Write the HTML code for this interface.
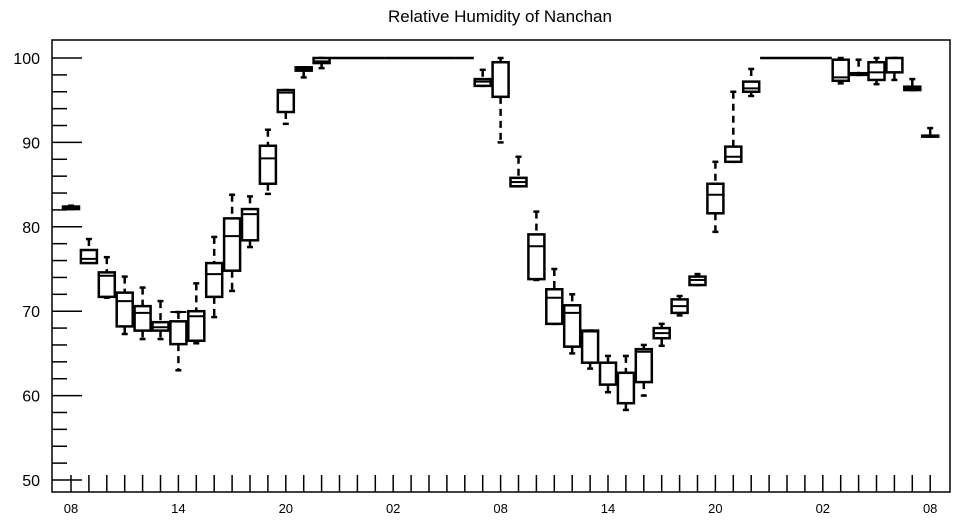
<!DOCTYPE html>
<html><head><meta charset="utf-8"><style>
body{margin:0;background:#fff;}
svg{display:block;font-family:"Liberation Sans",sans-serif;}
</style></head><body>
<svg id="chart" width="957" height="520">
<text x="500" y="22" text-anchor="middle" font-size="17">Relative Humidity of Nanchan</text>
<rect x="52" y="40" width="898" height="452" fill="none" stroke="#000" stroke-width="1.5"/>
<g id="axes"></g>
<g id="boxes"></g>
</svg>
<script>
// hour index from 08 of day 1
const hours=[0,1,2,3,4,5,6,7,8,9,10,11,12,13,14,23,24,25,26,27,28,29,30,31,32,33,34,35,36,37,38,43,44,45,46,47,48];
const mins=[82.1,76.0,71.6,67.3,66.7,66.7,63.0,66.2,69.3,72.4,77.6,83.9,92.2,97.7,98.8,96.7,90.0,84.8,73.7,68.5,65.0,63.2,60.4,58.3,60.0,65.9,69.5,73.1,79.4,87.7,95.5,97.0,98.0,96.9,97.4,96.2,90.7];
const q1s=[82.1,75.7,71.7,68.2,67.7,67.7,66.1,66.5,71.7,74.8,78.4,85.1,93.6,98.5,99.4,96.7,95.4,84.8,73.8,68.5,65.8,63.9,61.3,59.1,61.6,66.8,69.8,73.1,81.6,87.7,96.0,97.3,98.0,97.4,98.3,96.2,90.7];
const meds=[82.2,76.2,74.2,71.2,69.8,68.1,69.9,69.4,74.4,78.9,81.5,88.1,95.9,98.7,99.6,97.2,99.5,85.3,77.7,71.6,69.8,67.6,63.9,62.7,65.2,67.4,70.6,73.7,83.8,88.3,96.4,97.7,98.2,98.3,100,96.4,90.8];
const q3s=[82.4,77.25,74.6,72.2,70.6,68.7,68.8,70.0,75.7,81.0,82.1,89.6,96.2,98.9,100,97.5,99.5,85.8,79.1,72.6,70.7,67.7,63.9,62.7,65.5,68.0,71.4,74.1,85.1,89.5,97.2,99.8,98.2,99.5,100,96.6,90.8];
const maxs=[82.5,78.55,76.4,74.1,72.8,71.2,69.9,73.3,78.8,83.8,83.6,91.5,96.2,98.9,100,98.6,100,88.3,81.8,75.0,72.0,67.7,64.7,64.7,66.0,68.5,71.8,74.4,87.7,96.0,98.7,100,99.8,100,100,97.5,91.7];
const flatHours=[15,16,17,18,19,20,21,22,39,40,41,42];
const flatVals=[100,100,100,100,100,100,100,100,100,100,100,100];
const yTicks=[50,60,70,80,90,100];
const xLabels=["08","14","20","02","08","14","20","02","08"];

const NS="http://www.w3.org/2000/svg";
const X=h=>71+h*17.9;
const Y=v=>480-(v-50)*8.44;
function el(tag,attrs,parent){const e=document.createElementNS(NS,tag);for(const k in attrs)e.setAttribute(k,attrs[k]);parent.appendChild(e);return e;}
const axes=document.getElementById('axes'), boxes=document.getElementById('boxes');
for(let v=50;v<=100;v+=2){
  const major=v%10===0;
  const t=el('line',{x1:52,x2:major?82:67,y1:Y(v),y2:Y(v),stroke:'#000','stroke-width':1.5},axes);
  
  
}
yTicks.forEach(v=>{
  const t=el('text',{x:40,y:Y(v)+6,'text-anchor':'end','font-size':16},axes);
  t.textContent=v;
  
  
});
for(let h=0;h<=48;h++){
  const t=el('line',{x1:X(h),x2:X(h),y1:475,y2:492,stroke:'#000','stroke-width':1.5},axes);
  
  
}
xLabels.forEach((s,i)=>{
  const t=el('text',{x:X(i*6),y:513,'text-anchor':'middle','font-size':13},axes);
  t.textContent=s;
  
  
});
const W=16;
hours.forEach((h,i)=>{
  const g=el('g',{},boxes);
  
  
  const x=X(h);
  el('line',{x1:x,x2:x,y1:Y(maxs[i]),y2:Y(q3s[i]),stroke:'#000','stroke-width':2.5,'stroke-dasharray':'7,5'},g);
  el('line',{x1:x,x2:x,y1:Y(q1s[i]),y2:Y(mins[i]),stroke:'#000','stroke-width':2.5,'stroke-dasharray':'7,5'},g);
  el('line',{x1:x-3,x2:x+3,y1:Y(maxs[i]),y2:Y(maxs[i]),stroke:'#000','stroke-width':2.5},g);
  el('line',{x1:x-3,x2:x+3,y1:Y(mins[i]),y2:Y(mins[i]),stroke:'#000','stroke-width':2.5},g);
  const top=Y(q3s[i]),bot=Y(q1s[i]);
  el('rect',{x:x-W/2,y:top,width:W,height:Math.max(bot-top,1),fill:'#fff',stroke:'#000','stroke-width':2.5},g);
  el('line',{x1:x-W/2,x2:x+W/2,y1:Y(meds[i]),y2:Y(meds[i]),stroke:'#000','stroke-width':2},g);
});
flatHours.forEach((h,i)=>{
  const l=el('line',{x1:X(h)-9,x2:X(h)+9,y1:Y(flatVals[i]),y2:Y(flatVals[i]),stroke:'#000','stroke-width':2.5},boxes);
  
  
});
</script>
</body></html>
